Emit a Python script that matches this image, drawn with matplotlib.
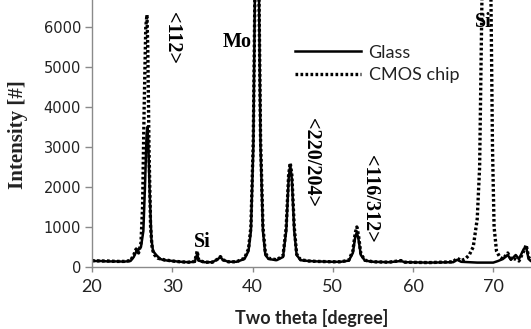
import matplotlib
matplotlib.use("Agg")
import matplotlib.pyplot as plt

# ---- data ----
glass_x = [20, 21, 22, 23, 24, 24.8, 25.2, 25.5, 25.8, 26.1, 26.4, 26.6, 26.8, 26.9, 27.0, 27.2, 27.4, 27.6,
           28, 28.5, 29, 30, 31, 32, 32.8, 33.0, 33.1, 33.3, 34, 35, 35.7, 36, 36.3, 37, 38, 39, 39.5, 39.8,
           40.1, 40.3, 40.8, 41.0, 41.3, 41.6, 42, 43, 43.8, 44.2, 44.5, 44.7, 44.9, 45.2, 45.5, 46, 47, 48,
           50, 51, 52, 52.5, 52.8, 53.0, 53.2, 53.5, 54, 55, 57, 58.5, 59, 62, 65, 65.5, 66, 68, 70, 70.6,
           71.2, 71.8, 72.2, 72.8, 73.2, 73.8, 74.1, 74.4, 74.7]
glass_y = [150, 150, 140, 140, 135, 150, 250, 380, 430, 500, 900, 2000, 3300, 3500, 3200, 1800, 700, 400,
           300, 200, 170, 150, 130, 120, 130, 250, 330, 160, 120, 120, 200, 250, 180, 130, 130, 200, 400, 900,
           3000, 6900, 6900, 3000, 900, 300, 200, 170, 250, 900, 2200, 2550, 2200, 900, 300, 170, 150, 140,
           130, 130, 160, 350, 750, 870, 700, 300, 160, 130, 120, 150, 120, 110, 120, 180, 130, 110, 110, 150,
           200, 300, 180, 300, 200, 450, 500, 200, 150]

cmos_x = [20, 21, 22, 23, 24, 24.8, 25.2, 25.5, 25.8, 26.1, 26.3, 26.5, 26.7, 26.85, 26.95, 27.1, 27.3, 27.5,
          27.8, 28.2, 29, 30, 31, 32, 32.8, 33.0, 33.1, 33.3, 34, 35, 35.7, 36, 36.3, 37, 38, 39, 39.5, 39.8,
          40.1, 40.3, 40.8, 41.0, 41.3, 41.6, 42, 43, 43.8, 44.2, 44.5, 44.7, 44.9, 45.2, 45.5, 46, 47, 48,
          50, 51, 52, 52.5, 52.8, 53.0, 53.2, 53.5, 54, 55, 57, 58.5, 59, 62, 65, 65.5, 66, 66.5, 67, 67.5,
          68, 68.3, 68.6, 69.7, 69.9, 70.1, 70.4, 70.8, 71.2, 71.8, 72.2, 72.8, 73.2, 73.8, 74.1, 74.4, 74.7]
cmos_y = [160, 150, 150, 140, 140, 160, 300, 450, 350, 600, 1500, 4000, 6000, 6300, 5500, 3000, 1000, 450,
          300, 220, 180, 150, 130, 120, 140, 300, 400, 170, 120, 120, 200, 260, 180, 130, 130, 220, 450, 1000,
          3200, 6900, 6900, 3200, 1000, 350, 220, 180, 280, 1000, 2300, 2600, 2300, 1000, 320, 180, 150, 140,
          130, 130, 170, 400, 850, 1000, 800, 330, 170, 130, 120, 160, 120, 110, 130, 220, 160, 200, 300, 500,
          1200, 2500, 6900, 6900, 3000, 1000, 400, 250, 200, 350, 200, 200, 150, 400, 550, 250, 150]

x_ticks = [20, 30, 40, 50, 60, 70]
y_ticks = [0, 1000, 2000, 3000, 4000, 5000, 6000]

series_labels = ["Glass", "CMOS chip"]

plt.rcParams['font.family'] = ['Lato', 'DejaVu Sans']

fig = plt.figure(figsize=(5.31, 3.29), dpi=100)
ax = fig.add_axes([92/531, 62/329, 1 - 92/531, 267/329])

ax.plot(glass_x, glass_y, color='black', lw=1.8, label=series_labels[0], solid_joinstyle='round')
ax.plot(cmos_x, cmos_y, color='black', lw=2.4, linestyle=(0, (0.8, 0.7)), label=series_labels[1])

ax.set_xlim(20, 74.7)
ax.set_ylim(0, 6670)
ax.set_xticks(x_ticks)
ax.set_yticks(y_ticks)

for s in ['top', 'right']:
    ax.spines[s].set_visible(False)
for s in ['left', 'bottom']:
    ax.spines[s].set_color('#8a8a8a')
    ax.spines[s].set_linewidth(1.0)
ax.tick_params(axis='both', colors='#8a8a8a', labelcolor='#222222', width=1)
ax.tick_params(axis='y', length=5, pad=3)
ax.tick_params(axis='x', length=3.5, pad=5, labelsize=13)
for lab in ax.get_yticklabels():
    lab.set_family('DejaVu Sans')
    lab.set_fontsize(10.5)

ax.set_xlabel("Two theta [degree]", fontsize=13, fontweight='bold', color='#222222', labelpad=10)
ax.set_ylabel("Intensity [#]", fontsize=15, fontweight='bold', family='Liberation Serif', color='#222222')
ax.yaxis.set_label_coords(-0.146, 0.494)

serif = 'Liberation Serif'
fs = 14.5
ax.text(30, 5720, "<112>", rotation=-90, ha='center', va='center', fontsize=fs, family=serif, fontweight='bold')
ax.text(38.1, 5620, "Mo", ha='center', va='center', fontsize=fs, family=serif, fontweight='bold')
ax.text(33.8, 630, "Si", ha='center', va='center', fontsize=fs, family=serif, fontweight='bold')
ax.text(47.3, 2620, "<220/204>", rotation=-90, ha='center', va='center', fontsize=fs, family=serif, fontweight='bold')
ax.text(54.7, 1700, "<116/312>", rotation=-90, ha='center', va='center', fontsize=fs, family=serif, fontweight='bold')
ax.text(68.7, 6120, "Si", ha='center', va='center', fontsize=fs, family=serif, fontweight='bold')

leg = ax.legend(loc='upper left', bbox_to_anchor=(0.445, 0.86), frameon=False, fontsize=13,
                handlelength=3.7, handletextpad=0.4, labelspacing=0.35, borderaxespad=0)
for t in leg.get_texts():
    t.set_color('#222222')

fig.savefig("out.png", dpi=100)
